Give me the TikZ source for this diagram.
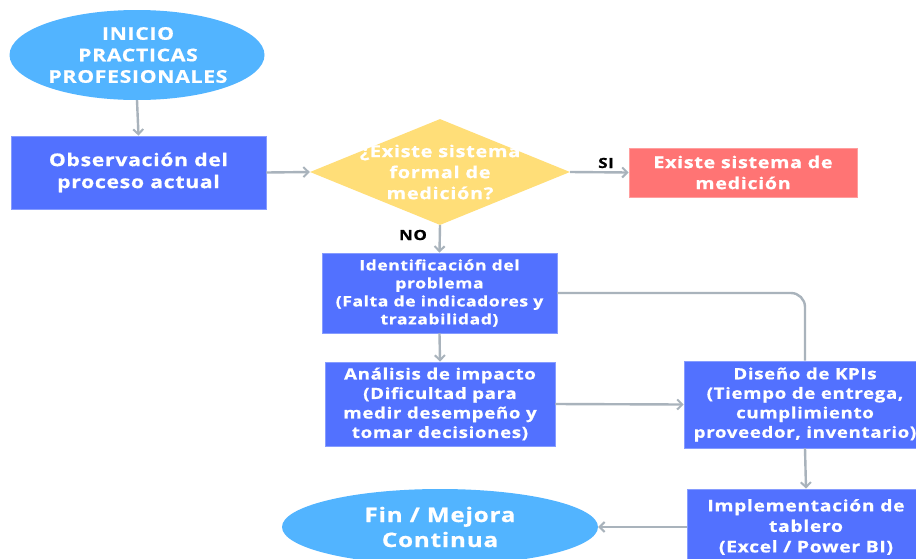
\documentclass[tikz,border=0pt]{standalone}
\usepackage{fontspec}
\setmainfont{Open Sans}[FakeStretch=1.21, LetterSpace=4, BoldFeatures={FakeBold=0.7}]
\usetikzlibrary{shapes.geometric,arrows.meta}
\definecolor{boxblue}{HTML}{5271FF}
\definecolor{ellblue}{HTML}{52B4FF}
\definecolor{dyellow}{HTML}{FFDE78}
\definecolor{boxred}{HTML}{FF7474}
\definecolor{arrgray}{HTML}{A9B3BC}
\newcommand{\fsz}[2]{\bfseries\fontsize{#1}{#2}\selectfont}
\tikzset{
  box/.style={rectangle, fill=boxblue, draw=boxblue!70!white, line width=0.8pt, text=white, align=center, inner sep=0pt},
  ell/.style={ellipse, fill=ellblue, text=white, align=center, inner sep=0pt},
  conn/.style={draw=arrgray, line width=2.4pt, -{Straight Barb[length=5pt,width=10pt,line width=2pt]}},
  plain/.style={draw=arrgray, line width=2.4pt, rounded corners=14pt},
  lbl/.style={font=\fsz{14}{16}, text=black}
}
\begin{document}
\begin{tikzpicture}[x=1pt,y=-1pt]
\useasboundingbox (0,0) rectangle (916,558);
\fill[white] (0,0) rectangle (916,558);
% nodes
\node[ell, minimum width=255pt, minimum height=90pt] (start) at (137,55) {};
\node[font=\fsz{17.5}{21.5}, text=white, align=center] (starttxt) at (138,55) {INICIO\\PRACTICAS\\PROFESIONALES};
\node[box, minimum width=255pt, minimum height=73pt, font=\fsz{17.5}{22}] (obs) at (138.5,172.5) {Observación del\\proceso actual};
\node[diamond, fill=dyellow, minimum width=260pt, minimum height=106pt, inner sep=0pt] (dec) at (440,172) {};
\node[font=\fsz{16.5}{21}, text=white, align=center] (dectxt) at (440,172) {¿Existe sistema\\formal de\\medición?};
\node[rectangle, fill=boxred, draw=boxred!70!white, line width=0.8pt, minimum width=228pt, minimum height=49pt, text=white, font=\fsz{16.3}{21}, align=center, inner sep=0pt] (exist) at (743,172.5) {Existe sistema de\\medición};
\node[box, minimum width=235pt, minimum height=80pt, font=\fsz{14.5}{18}] (ident) at (439.5,293) {Identificación del\\problema\\(Falta de indicadores y\\trazabilidad)};
\node[box, minimum width=230pt, minimum height=84pt, font=\fsz{15.5}{19.5}] (anal) at (440,404) {Análisis de impacto\\(Dificultad para\\medir desempeño y\\tomar decisiones)};
\node[box, minimum width=242pt, minimum height=87pt, font=\fsz{15.5}{19.5}] (kpi) at (805,404.5) {Diseño de KPIs\\(Tiempo de entrega,\\cumplimiento\\proveedor, inventario)};
\node[box, minimum width=238pt, minimum height=76pt, font=\fsz{16}{20.5}] (impl) at (806,527) {Implementación de\\tablero\\(Excel / Power BI)};
\node[ell, minimum width=316pt, minimum height=76pt, font=\fsz{20}{25}] (fin) at (440,527) {Fin / Mejora\\Continua};
% labels
\node[lbl] (si) at (606,163) {SI};
\node[lbl] (no) at (413,235) {NO};
% connectors
\draw[conn] (start.south) -- (obs.north);
\draw[conn] (obs.east) -- (dec.west);
\draw[conn] (dec.east) -- (exist.west);
\draw[conn] (dec.south) -- (ident.north);
\draw[conn] (ident.south) -- (anal.north);
\draw[conn] (anal.east) -- (kpi.west);
\draw[plain] (ident.east) -| (kpi.north);
\draw[conn] (kpi.south) -- (impl.north);
\draw[conn] (impl.west) -- (fin.east);
\end{tikzpicture}
\end{document}
